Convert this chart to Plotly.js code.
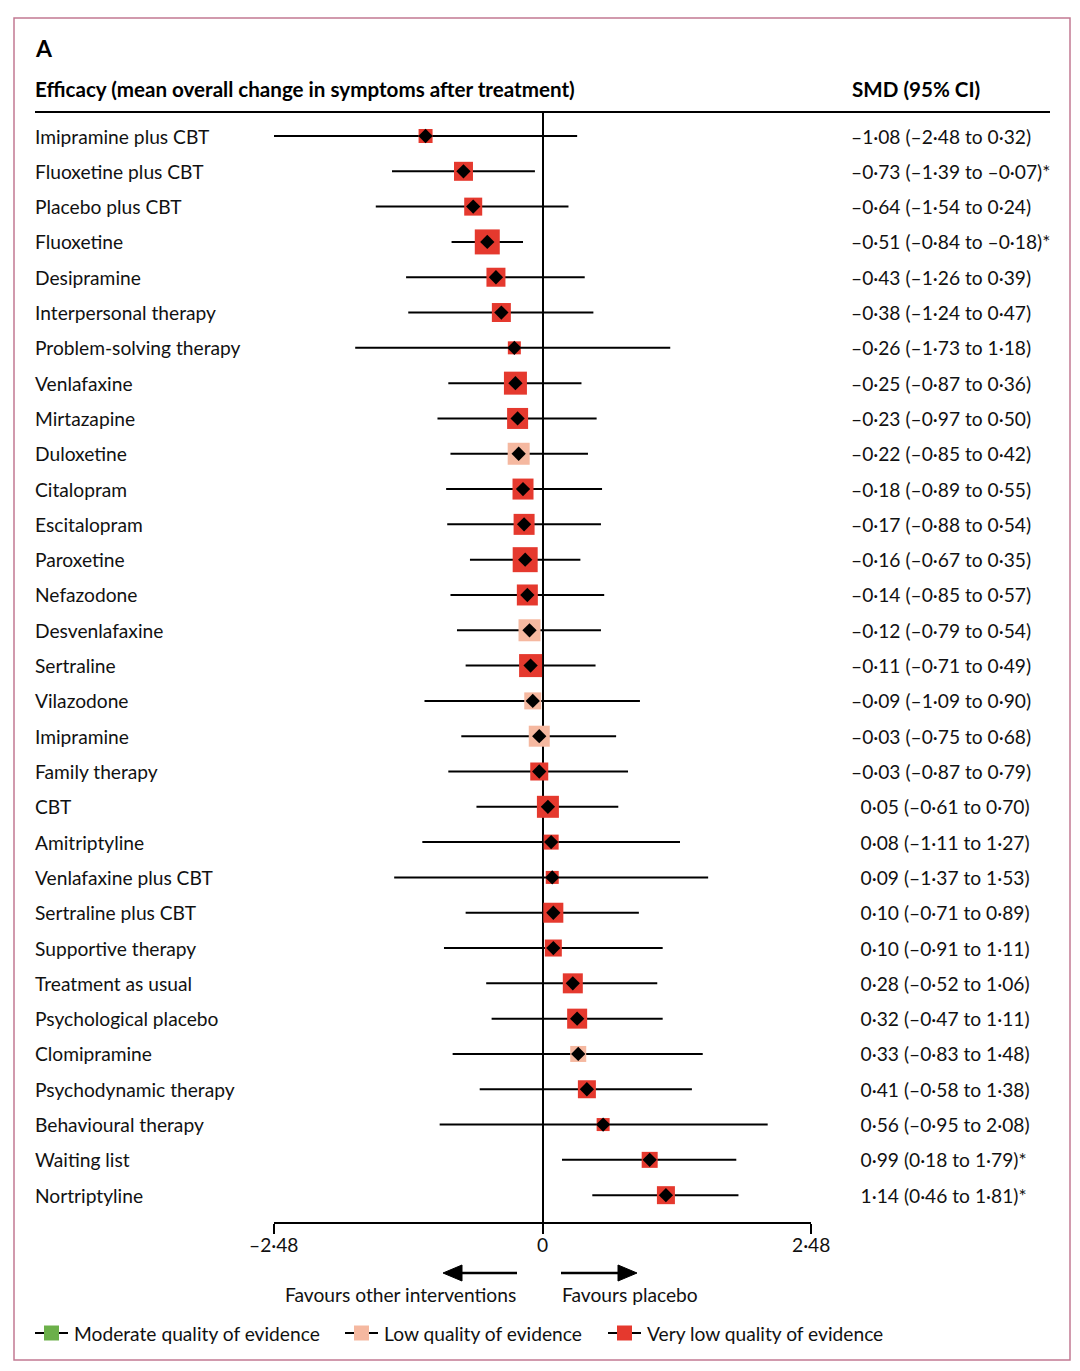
<!DOCTYPE html>
<html>
<head>
<meta charset="utf-8">
<script src="https://cdn.plot.ly/plotly-3.0.1.min.js"></script>
<style>
  html, body { margin: 0; padding: 0; background: #ffffff; }
  #chart { width: 1080px; height: 1371px; }
</style>
</head>
<body>
<div id="chart"></div>
<script>
// ---------------- DATA ----------------
const treatments = [
  "Imipramine plus CBT", "Fluoxetine plus CBT", "Placebo plus CBT", "Fluoxetine",
  "Desipramine", "Interpersonal therapy", "Problem-solving therapy", "Venlafaxine",
  "Mirtazapine", "Duloxetine", "Citalopram", "Escitalopram", "Paroxetine",
  "Nefazodone", "Desvenlafaxine", "Sertraline", "Vilazodone", "Imipramine",
  "Family therapy", "CBT", "Amitriptyline", "Venlafaxine plus CBT",
  "Sertraline plus CBT", "Supportive therapy", "Treatment as usual",
  "Psychological placebo", "Clomipramine", "Psychodynamic therapy",
  "Behavioural therapy", "Waiting list", "Nortriptyline"
];
const smd = [-1.08, -0.73, -0.64, -0.51, -0.43, -0.38, -0.26, -0.25, -0.23, -0.22,
  -0.18, -0.17, -0.16, -0.14, -0.12, -0.11, -0.09, -0.03, -0.03, 0.05, 0.08, 0.09,
  0.10, 0.10, 0.28, 0.32, 0.33, 0.41, 0.56, 0.99, 1.14];
const ciLow = [-2.48, -1.39, -1.54, -0.84, -1.26, -1.24, -1.73, -0.87, -0.97, -0.85,
  -0.89, -0.88, -0.67, -0.85, -0.79, -0.71, -1.09, -0.75, -0.87, -0.61, -1.11, -1.37,
  -0.71, -0.91, -0.52, -0.47, -0.83, -0.58, -0.95, 0.18, 0.46];
const ciHigh = [0.32, -0.07, 0.24, -0.18, 0.39, 0.47, 1.18, 0.36, 0.50, 0.42,
  0.55, 0.54, 0.35, 0.57, 0.54, 0.49, 0.90, 0.68, 0.79, 0.70, 1.27, 1.53,
  0.89, 1.11, 1.06, 1.11, 1.48, 1.38, 2.08, 1.79, 1.81];
// evidence quality: "very low" or "low"
const quality = ["very low", "very low", "very low", "very low", "very low", "very low",
  "very low", "very low", "very low", "low", "very low", "very low", "very low",
  "very low", "low", "very low", "low", "low", "very low", "very low", "very low",
  "very low", "very low", "very low", "very low", "very low", "low", "very low",
  "very low", "very low", "very low"];
// relative weight (square size)
const weight = [14, 19, 18, 25, 19, 19, 13, 23, 21, 22, 21, 21, 25, 21, 22, 23, 17, 21,
  18, 22, 15, 13, 20, 17, 20, 20, 16, 18, 13, 16, 18];
const legendLabels = ["Moderate quality of evidence", "Low quality of evidence", "Very low quality of evidence"];
const tickValues = [-2.48, 0, 2.48];
const favourLabels = ["Favours other interventions", "Favours placebo"];

// ---------------- STYLE ----------------
const FONT = "Lato, 'Open Sans', sans-serif";
const RED = "#e5392e";
const PINK = "#f5b8a0";
const GREEN = "#6cb04a";
const qualityColor = { "moderate": GREEN, "low": PINK, "very low": RED };
const legendColors = [GREEN, PINK, RED];

// pixel geometry helpers (plot area 274..813 x, 112..1222 y)
const L = 274, R = 811, T = 112, B = 1222;
const px = p => (p - L) / (R - L);
const py = p => (B - p) / (B - T);

const fmt = v => (v < 0 ? "\u2013" : "") + Math.abs(v).toFixed(2).replace(".", "\u00b7");
const rows = treatments.map((_, i) => i);

const ciText = smd.map((v, i) =>
  (v >= 0 ? "\u2002" : "") + fmt(v) + " (" + fmt(ciLow[i]) + " to " + fmt(ciHigh[i]) + ")" +
  ((ciLow[i] > 0 || ciHigh[i] < 0) ? "*" : ""));

// ---------------- TRACES ----------------
const ciTrace = {
  type: "scatter", mode: "markers", x: smd, y: rows,
  marker: { size: 1, color: "rgba(0,0,0,0)" },
  error_x: {
    type: "data", symmetric: false,
    array: smd.map((v, i) => ciHigh[i] - v),
    arrayminus: smd.map((v, i) => v - ciLow[i]),
    width: 0, thickness: 2, color: "#000000"
  },
  hoverinfo: "skip", showlegend: false
};
const squareTrace = {
  type: "scatter", mode: "markers", x: smd, y: rows,
  marker: { symbol: "square", size: weight, opacity: 1, color: quality.map(q => qualityColor[q]), line: { width: 0 } },
  text: treatments, hoverinfo: "text+x", showlegend: false
};
const diamondTrace = {
  type: "scatter", mode: "markers", x: smd, y: rows,
  marker: { symbol: "diamond", size: 11, opacity: 1, color: "#000000", line: { width: 0 } },
  hoverinfo: "skip", showlegend: false
};

// ---------------- ANNOTATIONS ----------------
const annotations = [];
annotations.push({ xref: "paper", yref: "paper", x: px(33), y: py(48), text: "<b>A</b>",
  showarrow: false, xanchor: "left", yanchor: "middle", font: { family: FONT, size: 23, color: "#000" } });
annotations.push({ xref: "paper", yref: "paper", x: px(33), y: py(89),
  text: "<b>Efficacy (mean overall change in symptoms after treatment)</b>",
  showarrow: false, xanchor: "left", yanchor: "middle", font: { family: FONT, size: 20.6, color: "#000" } });
annotations.push({ xref: "paper", yref: "paper", x: px(850), y: py(89), text: "<b>SMD (95% CI)</b>",
  showarrow: false, xanchor: "left", yanchor: "middle", font: { family: FONT, size: 20.6, color: "#000" } });

treatments.forEach((t, i) => {
  annotations.push({ xref: "paper", yref: "y", x: px(33), y: i, text: t, showarrow: false,
    xanchor: "left", yanchor: "middle", font: { family: FONT, size: 19.2, color: "#111" } });
  annotations.push({ xref: "paper", yref: "y", x: px(849), y: i, text: ciText[i], showarrow: false,
    xanchor: "left", yanchor: "middle", font: { family: FONT, size: 19.2, color: "#111" } });
});

// tick labels placed just under the axis ticks
tickValues.forEach(v => {
  annotations.push({ xref: "x", yref: "paper", x: v, y: py(1244), text: v === 0 ? "0" : fmt(v),
    showarrow: false, xanchor: "center", yanchor: "middle", font: { family: FONT, size: 19.2, color: "#111" } });
});

annotations.push({ xref: "paper", yref: "paper", x: px(518), y: py(1294), text: favourLabels[0],
  showarrow: false, xanchor: "right", yanchor: "middle", font: { family: FONT, size: 19.2, color: "#111" } });
annotations.push({ xref: "paper", yref: "paper", x: px(560), y: py(1294), text: favourLabels[1],
  showarrow: false, xanchor: "left", yanchor: "middle", font: { family: FONT, size: 19.2, color: "#111" } });

// ---------------- SHAPES ----------------
const shapes = [];
// outer border
shapes.push({ type: "rect", xref: "paper", yref: "paper", x0: px(14), x1: px(1070), y0: py(18), y1: py(1360),
  line: { color: "#c27a92", width: 1.5 }, fillcolor: "rgba(0,0,0,0)", layer: "below" });
// header rule
shapes.push({ type: "line", xref: "paper", yref: "paper", x0: px(35), x1: px(1050), y0: py(112), y1: py(112),
  line: { color: "#000", width: 2 } });
// arrows
shapes.push({ type: "line", xref: "paper", yref: "paper", x0: px(517), x1: px(458), y0: py(1273), y1: py(1273),
  line: { color: "#000", width: 2.5 } });
shapes.push({ type: "path", xref: "paper", yref: "paper",
  path: `M ${px(443)} ${py(1273)} L ${px(462)} ${py(1265)} L ${px(462)} ${py(1281)} Z`,
  fillcolor: "#000", line: { color: "#000", width: 1 } });
shapes.push({ type: "line", xref: "paper", yref: "paper", x0: px(561), x1: px(622), y0: py(1273), y1: py(1273),
  line: { color: "#000", width: 2.5 } });
shapes.push({ type: "path", xref: "paper", yref: "paper",
  path: `M ${px(637)} ${py(1273)} L ${px(618)} ${py(1265)} L ${px(618)} ${py(1281)} Z`,
  fillcolor: "#000", line: { color: "#000", width: 1 } });

// legend
const legendStart = [35, 345, 608];
legendLabels.forEach((lab, i) => {
  const sx = legendStart[i];
  shapes.push({ type: "line", xref: "paper", yref: "paper", x0: px(sx), x1: px(sx + 33), y0: py(1333), y1: py(1333),
    line: { color: "#000", width: 2 } });
  shapes.push({ type: "rect", xref: "paper", yref: "paper", xsizemode: "pixel", ysizemode: "pixel",
    xanchor: px(sx + 16.5), yanchor: py(1333), x0: -7.5, x1: 7.5, y0: -7.5, y1: 7.5,
    fillcolor: legendColors[i], line: { width: 0 } });
  annotations.push({ xref: "paper", yref: "paper", x: px(sx + 37), y: py(1333), text: lab, showarrow: false,
    xanchor: "left", yanchor: "middle", font: { family: FONT, size: 19.2, color: "#111" } });
});

// ---------------- LAYOUT ----------------
const layout = {
  width: 1080, height: 1371,
  margin: { l: L, r: 1080 - R, t: T, b: 1371 - B, pad: 0 },
  paper_bgcolor: "#ffffff", plot_bgcolor: "rgba(0,0,0,0)",
  showlegend: false,
  font: { family: FONT, size: 19.2, color: "#111" },
  xaxis: {
    range: [-2.48, 2.48], showgrid: false,
    zeroline: true, zerolinecolor: "#000", zerolinewidth: 2,
    showline: true, linecolor: "#000", linewidth: 2,
    ticks: "outside", ticklen: 10, tickwidth: 2, tickcolor: "#000",
    tickvals: tickValues, showticklabels: false,
    fixedrange: true
  },
  yaxis: {
    range: [30.76, -0.68], visible: false, showgrid: false, zeroline: false, fixedrange: true
  },
  annotations: annotations,
  shapes: shapes
};

Plotly.newPlot("chart", [ciTrace, squareTrace, diamondTrace], layout, { displayModeBar: false, staticPlot: true });
</script>
</body>
</html>
